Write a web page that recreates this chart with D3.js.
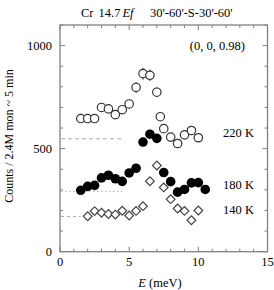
<!DOCTYPE html>
<html><head><meta charset="utf-8">
<script src="https://cdn.jsdelivr.net/npm/d3@7"></script>
<style>
html,body{margin:0;padding:0;background:#fff;}
svg{display:block;font-family:"Liberation Serif","DejaVu Serif",serif;}
</style></head>
<body>
<svg id="c" width="274" height="290"></svg>
<script>
// ---- data ----
const e220 = [1.5,2,2.5,3,3.5,4,4.5,5,5.5,6,6.5,7,7.25,7.5,8,8.5,9,9.5,10];
const v220 = [646,646,646,700,693,665,689,717,797,864,856,774,655,597,556,525,567,588,553];
const err220 = [18,18,18,19,19,19,19,20,26,29,28,24,19,18,18,17,18,18,18];
const e180 = [1.5,2,2.5,3,3.5,4,4.5,5,5.5,6,6.5,7,7.5,8,8.5,9,9.5,10,10.5];
const v180 = [298,317,322,358,371,354,341,382,405,532,570,550,384,340,289,302,334,335,302];
const e140 = [2,2.5,3,3.5,4,4.5,5,5.5,6,6.5,7,7.5,8,8.5,9,9.5,10];
const v140 = [172,197,189,183,180,199,176,198,221,342,418,312,255,210,198,153,200];
const baseLevels = [548,293,171];        // 220K,180K,140K background levels
const baseEnds = [4.5,4.5,1.5];
const tempLabels = ["220 K","180 K","140 K"];
const tempLabelY = [574,322,200];
const xMajor = [0,5,10,15];
const xMinor = [1,2,3,4,6,7,8,9,11,12,13,14];
const yMajor = [0,500,1000];
const yMinor = [100,200,300,400,600,700,800,900,1100];

// ---- layout ----
const svg = d3.select("#c");
const x = d3.scaleLinear().domain([0,15]).range([60,267.5]);
const y = d3.scaleLinear().domain([0,1100]).range([251.7,25]);
const frameCol = "#808080";
const fs = "12.5px";

const g = svg.append("g");

// frame
g.append("rect").attr("x",x(0)).attr("y",y(1100)).attr("width",x(15)-x(0)).attr("height",y(0)-y(1100))
 .attr("fill","none").attr("stroke",frameCol).attr("stroke-width",1.3);

// ticks (inward on all four sides)
function ticks(vals,len){
  vals.forEach(v=>{
    g.append("line").attr("x1",x(v)).attr("x2",x(v)).attr("y1",y(0)).attr("y2",y(0)-len).attr("stroke",frameCol);
    g.append("line").attr("x1",x(v)).attr("x2",x(v)).attr("y1",y(1100)).attr("y2",y(1100)+len).attr("stroke",frameCol);
  });
}
function yticks(vals,len){
  vals.forEach(v=>{
    g.append("line").attr("y1",y(v)).attr("y2",y(v)).attr("x1",x(0)).attr("x2",x(0)+len).attr("stroke",frameCol);
    g.append("line").attr("y1",y(v)).attr("y2",y(v)).attr("x1",x(15)).attr("x2",x(15)-len).attr("stroke",frameCol);
  });
}
ticks(xMajor,5); ticks(xMinor,3);
yticks(yMajor,5); yticks(yMinor,3);

// tick labels
xMajor.forEach(v=>{
  g.append("text").attr("x",x(v)).attr("y",265.5).attr("text-anchor","middle").attr("font-size",fs).text(v);
});
yMajor.forEach(v=>{
  g.append("text").attr("x",52).attr("y",y(v)+4).attr("text-anchor","end").attr("font-size",fs).text(v);
});

// axis titles
const xt = g.append("text").attr("x",160).attr("y",286.5).attr("text-anchor","middle").attr("font-size",fs);
xt.append("tspan").attr("font-style","italic").text("E");
xt.append("tspan").text(" (meV)");
g.append("text").attr("transform","translate(12.5,136) rotate(-90)").attr("text-anchor","middle")
 .attr("font-size","12px").text("Counts / 2.4M mon ~ 5 min");

// title
g.append("text").attr("x",81).attr("y",17).attr("font-size",fs).text("Cr");
const t2 = g.append("text").attr("x",98.5).attr("y",17).attr("font-size",fs);
t2.append("tspan").text("14.7");
t2.append("tspan").attr("font-style","italic").attr("dx",2).text("Ef");
g.append("text").attr("x",150).attr("y",17).attr("font-size",fs).text("30'-60'-S-30'-60'");

// Q label
g.append("text").attr("x",245).attr("y",49.5).attr("text-anchor","end").attr("font-size",fs).text("(0, 0, 0.98)");

// background level lines
const dashes = ["4,3","1.5,2.5","3,3"];
baseLevels.forEach((b,i)=>{
  g.append("line").attr("x1",x(0)+1).attr("x2",x(baseEnds[i])).attr("y1",y(b)).attr("y2",y(b))
   .attr("stroke","#aaa").attr("stroke-width",1).attr("stroke-dasharray",dashes[i]);
});

// temperature labels
tempLabels.forEach((t,i)=>{
  g.append("text").attr("x",254).attr("y",y(tempLabelY[i])+4).attr("text-anchor","end").attr("font-size",fs).text(t);
});

// 220K open circles with error bars
const d220 = e220.map((e,i)=>({e,v:v220[i],s:err220[i]}));
g.append("g").selectAll("line").data(d220).join("line")
 .attr("x1",d=>x(d.e)).attr("x2",d=>x(d.e)).attr("y1",d=>y(d.v-d.s)).attr("y2",d=>y(d.v+d.s))
 .attr("stroke","#333").attr("stroke-width",1);
g.append("g").selectAll("circle").data(d220).join("circle")
 .attr("cx",d=>x(d.e)).attr("cy",d=>y(d.v)).attr("r",4.2)
 .attr("fill","#fff").attr("stroke","#333").attr("stroke-width",1.2);

// 140K open diamonds
const sq = d3.symbol().type(d3.symbolSquare).size(38);
g.append("g").selectAll("path").data(e140.map((e,i)=>({e,v:v140[i]}))).join("path")
 .attr("d",sq).attr("transform",d=>`translate(${x(d.e)},${y(d.v)}) rotate(45)`)
 .attr("fill","#fff").attr("stroke","#444").attr("stroke-width",1.2);

// 180K filled circles
g.append("g").selectAll("circle").data(e180.map((e,i)=>({e,v:v180[i]}))).join("circle")
 .attr("cx",d=>x(d.e)).attr("cy",d=>y(d.v)).attr("r",4.8).attr("fill","#000");
</script>
</body></html>
